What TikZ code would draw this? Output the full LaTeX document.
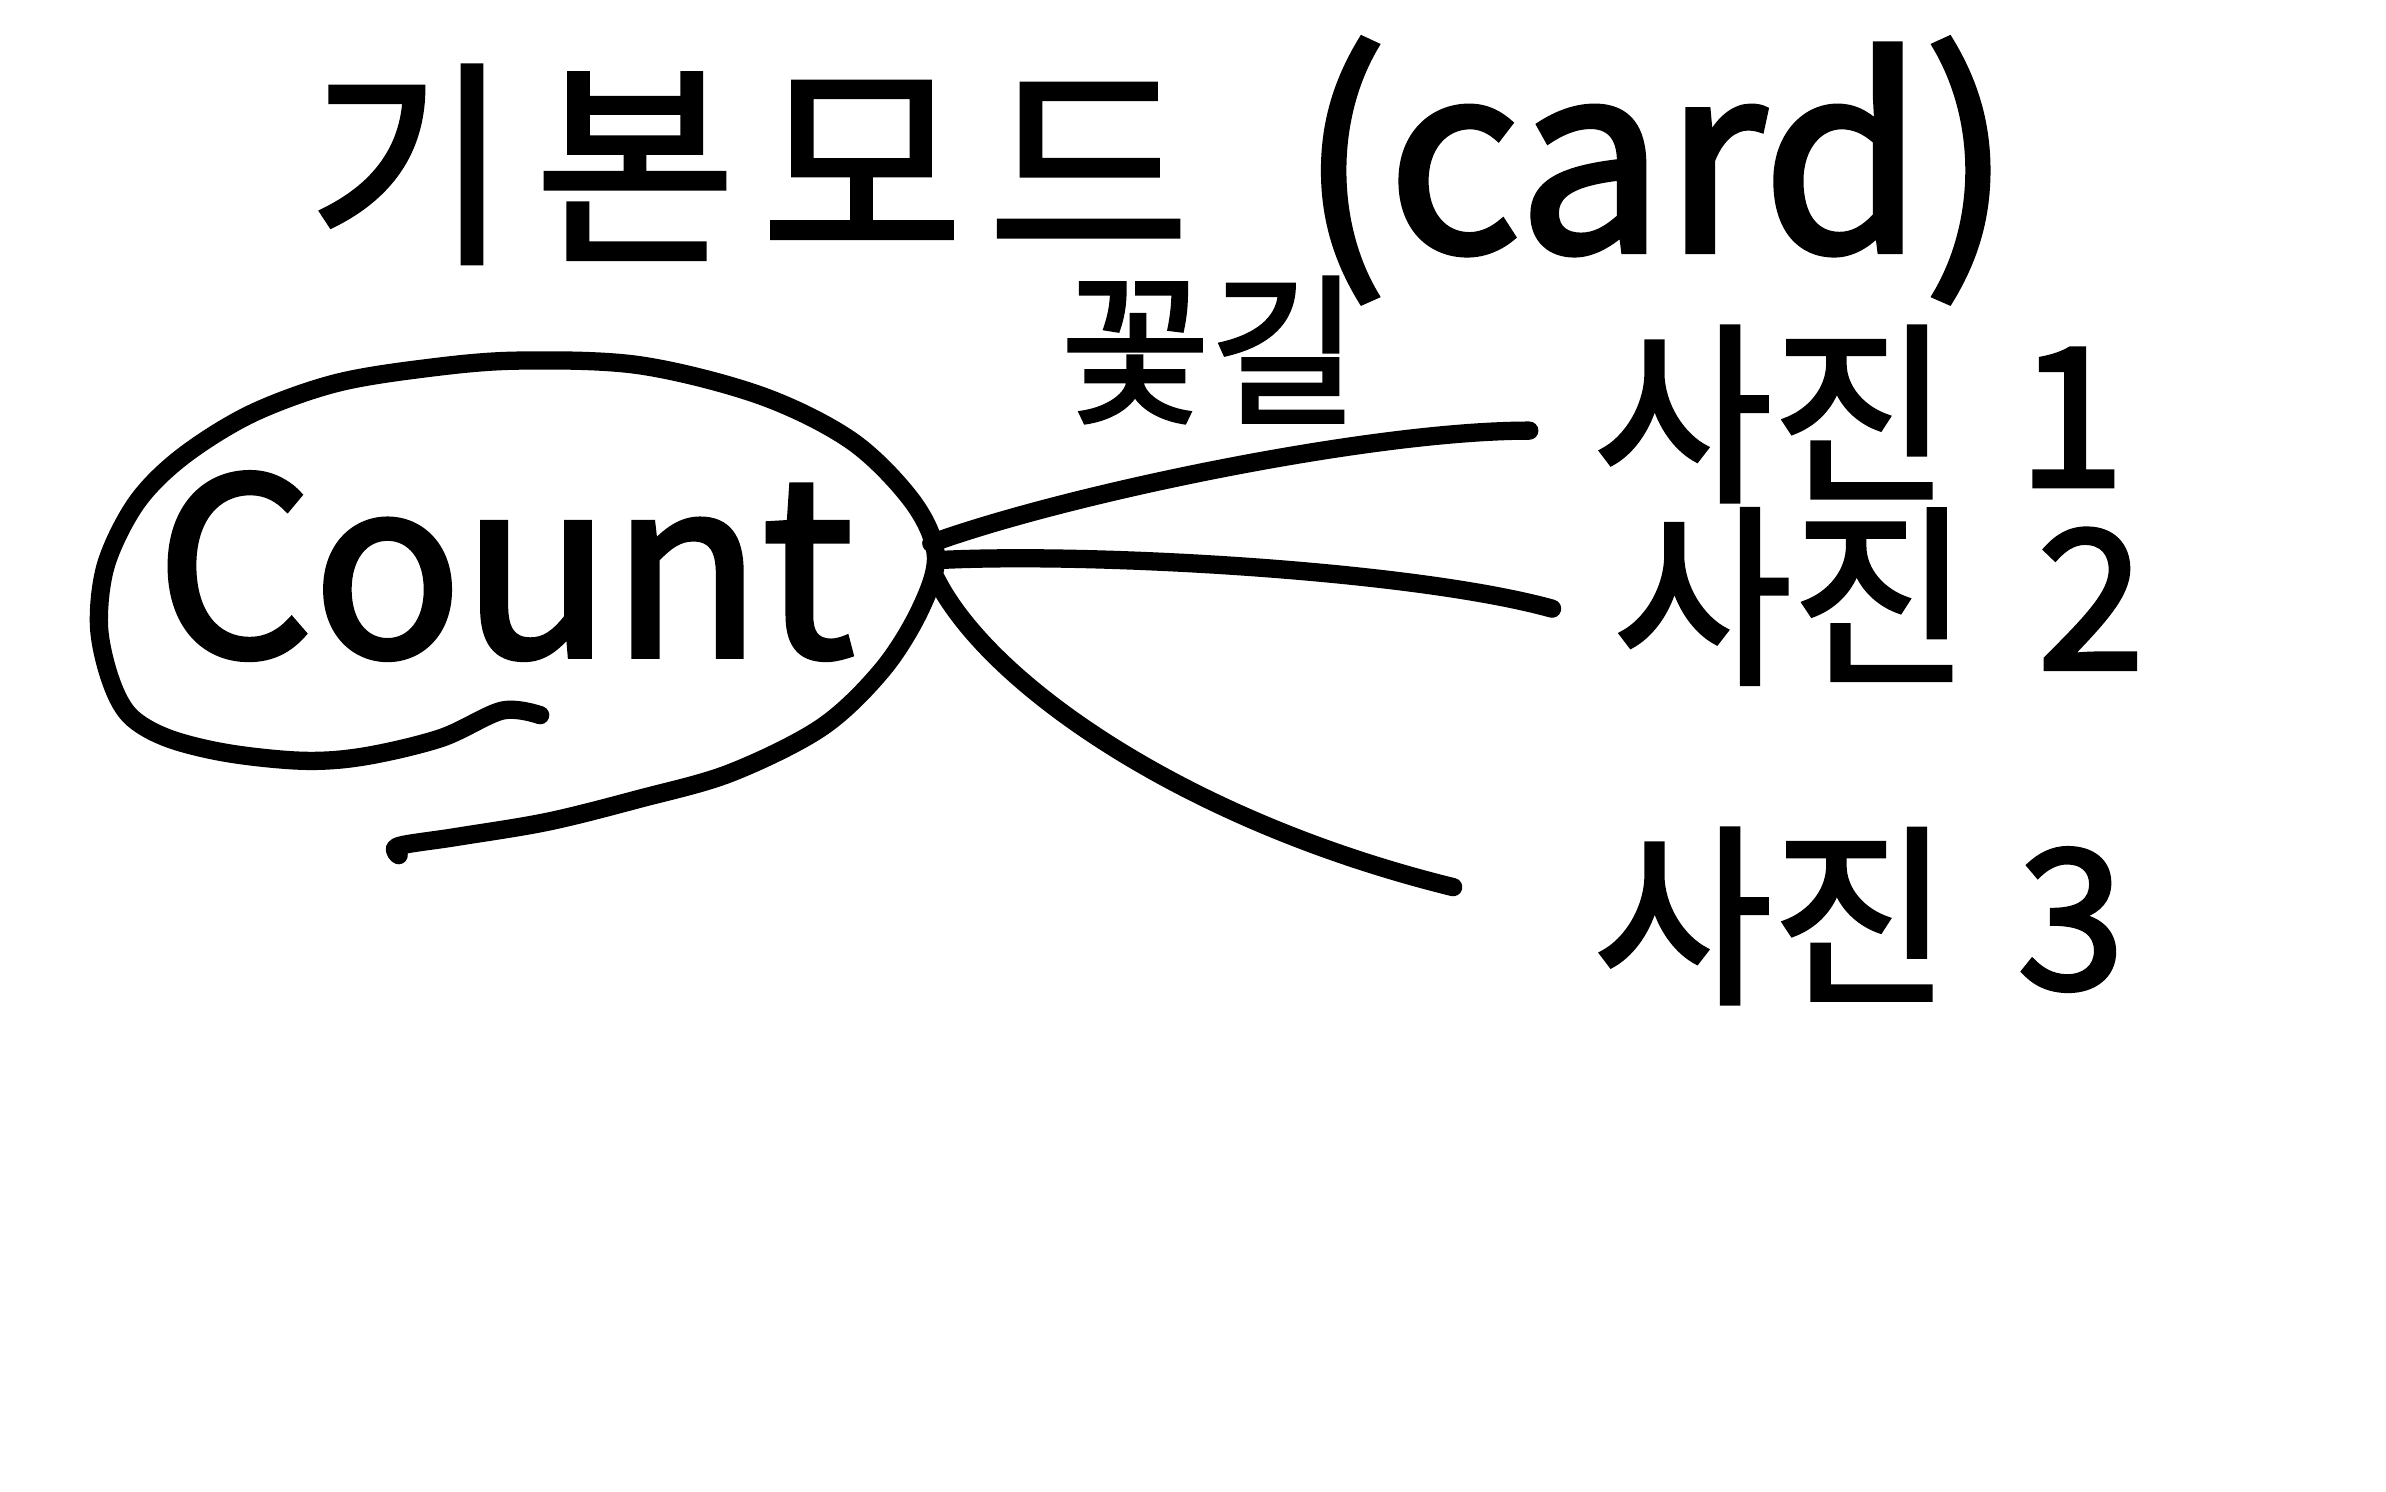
\documentclass[tikz,border=0pt]{standalone}
\usepackage{fontspec}
\setmainfont{Noto Sans CJK KR}[FakeBold=2.2]
\newcommand{\fs}[1]{\fontsize{#1}{#1}\selectfont}
\begin{document}
\begin{tikzpicture}[x=0.015217cm,y=-0.015217cm,
  ink/.style={line width=5.2pt,line cap=round,line join=round,black},
  txt/.style={inner sep=0pt,anchor=center,black}]
\useasboundingbox (0,0) rectangle (1568,980);
\fill[white] (0,0) rectangle (1568,980);
% title
\node[txt,font=\fs{62}\addfontfeature{LetterSpace=12}] (title) at (492,108) {기본모드};
\node[txt,font=\fs{74}] (card) at (1088,112) {(card)};
% Count with hand-drawn loop
\node[txt,font=\fs{70}] (count) at (332,372) {Count};
\draw[ink] plot[smooth,tension=0.55] coordinates {(355,470) (330,467) (290,485) (240,497) (200,500) (150,495) (110,485) (85,470) (72,445) (65,410) (70,370) (90,330) (120,300) (165,272) (220,252) (280,242) (340,237) (420,240) (500,260) (560,290) (600,330) (615,365) (605,400) (580,440) (540,478) (480,508) (420,525) (360,540) (300,550) (262,556) (262,562)};
% labels
\node[txt,font=\fs{46}] (flower) at (795,230) {꽃길};
\node[txt,font=\fs{55}] (p1) at (1222,272) {사진\hspace{0.35em}1};
\node[txt,font=\fs{55}] (p2) at (1235,392) {사진\hspace{0.35em}2};
\node[txt,font=\fs{55}] (p3) at (1222,602) {사진\hspace{0.35em}3};
% connector ends
\coordinate (s1) at (612,357);
\coordinate (s2) at (618,368);
\coordinate (s3) at (615,380);
\coordinate (e1) at (1005,283);
\coordinate (e2) at (1020,400);
\coordinate (e3) at (955,583);
\draw[ink] (s1) .. controls (700,325) and (900,283) .. (e1);
\draw[ink] (s2) .. controls (720,363) and (930,375) .. (e2);
\draw[ink] (s3) .. controls (650,450) and (780,540) .. (e3);
\end{tikzpicture}
\end{document}
